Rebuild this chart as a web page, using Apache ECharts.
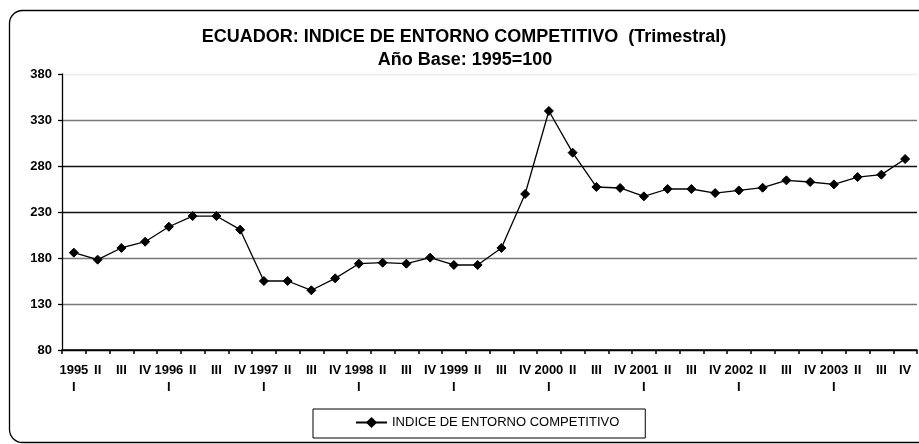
<!DOCTYPE html>
<html>
<head>
<meta charset="utf-8">
<script src="https://cdn.jsdelivr.net/npm/echarts@6/dist/echarts.min.js"></script>
<style>
  html, body { margin: 0; padding: 0; background: #fff; }
  #main { width: 919px; height: 444px; }
</style>
</head>
<body>
<div id="main"></div>
<script>
// trimestres 1995 I .. 2003 IV
var years = ['1995', '1996', '1997', '1998', '1999', '2000', '2001', '2002', '2003'];
var quarters = ['I', 'II', 'III', 'IV'];
var quarterLabels = [];
years.forEach(function (y) {
  quarters.forEach(function (q) {
    quarterLabels.push(q === 'I' ? y + '\nI' : q);
  });
});

var indiceValues = [
  185.8, 178.2, 190.9, 197.7, 214.0, 225.6, 225.6, 210.8,
  155.0, 155.0, 144.9, 157.9, 173.8, 174.9, 173.8, 180.4,
  172.4, 172.4, 190.9, 249.6, 339.8, 294.5, 257.2, 256.1,
  247.0, 255.0, 255.0, 250.6, 253.5, 256.4, 264.4, 262.6,
  260.0, 268.0, 270.6, 287.6
];

var seriesName = 'INDICE DE ENTORNO COMPETITIVO';
var yTicks = { min: 80, max: 380, interval: 50 };

var font = 'Liberation Sans, Arial, sans-serif';

var chart = echarts.init(document.getElementById('main'));
var option = {
  backgroundColor: '#fff',
  animation: false,
  textStyle: { fontFamily: font },
  graphic: [
    {
      type: 'rect',
      shape: { x: 9.5, y: 10.5, width: 950, height: 432, r: 13 },
      style: { fill: 'none', stroke: '#000', lineWidth: 1.3 },
      silent: true
    }
  ],
  title: [
    {
      text: 'ECUADOR: INDICE DE ENTORNO COMPETITIVO  (Trimestral)',
      left: 459,
      textAlign: 'center',
      top: 23,
      textStyle: { fontSize: 18, fontWeight: 'bold', color: '#000', fontFamily: font }
    },
    {
      text: 'Año Base: 1995=100',
      left: 460,
      textAlign: 'center',
      top: 46,
      textStyle: { fontSize: 18, fontWeight: 'bold', color: '#000', fontFamily: font }
    }
  ],
  legend: {
    left: 313,
    top: 409,
    orient: 'horizontal',
    padding: [7, 26, 9, 42],
    itemWidth: 31,
    itemHeight: 14,
    itemGap: 7,
    borderColor: '#000',
    borderWidth: 1,
    textStyle: { fontSize: 13, color: '#000', fontFamily: font },
    data: [seriesName]
  },
  grid: { left: 62, right: 2, top: 74, bottom: 94, containLabel: false },
  xAxis: {
    type: 'category',
    data: quarterLabels,
    boundaryGap: true,
    axisLine: { lineStyle: { color: '#000', width: 1.5 } },
    axisTick: { show: true, inside: false, length: 4, lineStyle: { color: '#000', width: 1.5 } },
    axisLabel: {
      interval: 0,
      margin: 12,
      color: '#000',
      fontSize: 13,
      fontWeight: 'bold',
      lineHeight: 17,
      fontFamily: font
    },
    splitLine: { show: false }
  },
  yAxis: {
    type: 'value',
    min: yTicks.min,
    max: yTicks.max,
    interval: yTicks.interval,
    axisLine: { show: true, lineStyle: { color: '#000', width: 1.3 } },
    axisTick: { show: true, length: 4, lineStyle: { color: '#000', width: 1.3 } },
    axisLabel: {
      margin: 10,
      color: '#000',
      fontSize: 13,
      fontWeight: 'bold',
      fontFamily: font
    },
    splitLine: {
      show: true,
      lineStyle: { color: ['#000', '#777', '#777', '#111', '#111', '#777', '#ececec'], width: 1.3 }
    }
  },
  series: [
    {
      name: seriesName,
      type: 'line',
      data: indiceValues,
      symbol: 'diamond',
      symbolSize: 9,
      showAllSymbol: true,
      lineStyle: { color: '#000', width: 1.3 },
      itemStyle: { color: '#000', borderColor: '#000' }
    }
  ]
};
chart.setOption(option);
</script>
</body>
</html>
